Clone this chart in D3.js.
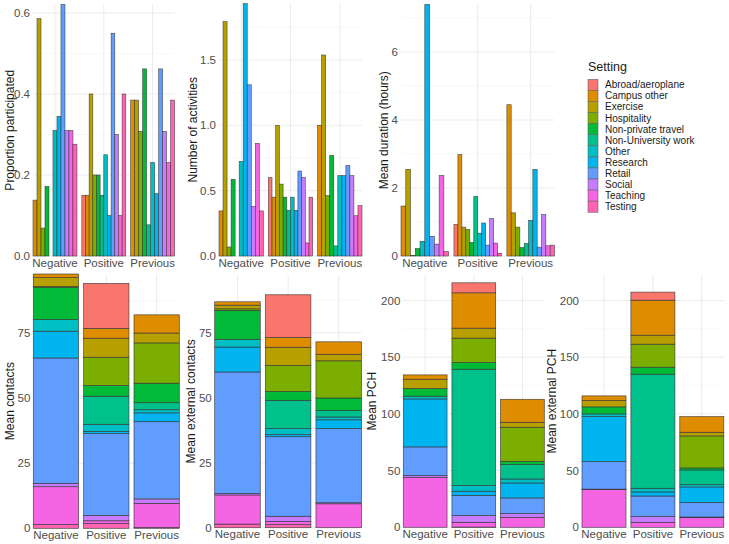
<!DOCTYPE html>
<html><head><meta charset="utf-8">
<script src="https://cdn.jsdelivr.net/npm/d3@7"></script>
<style>body{margin:0;background:#fff} svg{display:block} text{font-family:"Liberation Sans",Arial,sans-serif}</style>
</head><body><svg id="c" width="729" height="544"></svg>
<script>
const settings = ["Abroad/aeroplane","Campus other","Exercise","Hospitality","Non-private travel","Non-University work","Other","Research","Retail","Social","Teaching","Testing"];
const colors = ["#F8766D","#DE8C00","#B79F00","#7CAE00","#00BA38","#00C08B","#00BFC4","#00B4F0","#619CFF","#C77CFF","#F564E3","#FF64B0"];
const groups = ["Negative","Positive","Previous"];

// Top row (dodged bars), values in settings order; null = category absent
const propNegative = [null,0.138,0.586,0.069,0.172,0,0.310,0.345,0.621,0.310,0.310,0.276];
const propPositive = [0.15,0.15,0.40,0.20,0.20,0.15,0.25,0.10,0.55,0.30,0.10,0.40];
const propPrevious = [null,0.385,0.385,0.308,0.462,0.077,0.231,0.154,0.462,0.308,0.231,0.385];

const actNegative = [null,0.345,1.793,0.069,0.586,0,0.724,1.931,1.310,0.379,0.862,0.345];
const actPositive = [0.60,0.45,1.00,0.55,0.45,0.35,0.45,0.35,0.65,0.60,0.10,0.45];
const actPrevious = [null,1.00,1.538,0.462,0.769,0.077,0.615,0.615,0.692,0.615,0.308,0.385];

const durNegative = [null,1.47,2.55,0.02,0.22,null,0.43,7.40,0.58,0.35,2.37,0.13];
const durPositive = [0.93,2.98,0.85,0.78,0.40,1.75,0.67,0.97,0.32,1.10,0.38,0.08];
const durPrevious = [null,4.45,1.27,0.85,0.25,0.37,1.05,2.55,0.26,1.22,0.30,0.32];

// Bottom row (stacked bars), values in settings order
const contNegative = [0,1.4,3.4,0.3,12.4,0,4.5,10.3,48.2,1.3,14.5,1.5];
const contPositive = [17.3,3.8,7.3,10.9,4.1,10.8,2.7,0.9,31.5,2.0,1.1,1.8];
const contPrevious = [0,7.0,3.8,15.5,7.5,2.7,1.2,3.4,29.7,1.7,9.3,0.3];

const extNegative = [0,1.3,1.4,0.6,11.2,0,2.9,9.6,46.8,0.5,11.2,1.4];
const extPositive = [16.4,3.8,7.0,10.0,3.4,10.9,2.2,0.9,30.6,2.0,1.2,1.2];
const extPrevious = [0,4.8,2.5,14.3,4.8,2.5,1.1,3.3,28.6,0.4,9.2,0];

const pchNegative = [0,3.8,8.2,0,6.8,0,2.4,42.3,25.3,1.5,44.1,0];
const pchPositive = [8.8,31.2,8.8,21.5,5.9,102.6,5.0,3.6,17.9,5.9,4.2,0.2];
const pchPrevious = [0,20.3,4.4,30.0,2.9,12.7,3.5,13.2,13.8,3.3,8.8,0];

const epchNegative = [0,4.1,5.6,0,6.2,0,2.4,39.7,24.2,0.5,33.2,0];
const epchPositive = [7.1,30.9,7.9,20.3,6.2,100.6,3.2,3.6,18.2,5.0,4.4,0];
const epchPrevious = [0,13.8,3.2,28.2,1.8,13.0,2.0,13.8,12.7,0.6,8.5,0];

const svg = d3.select("#c");
const tickCol = "#4D4D4D", gridCol = "#EBEBEB";

function frame(p, y) {
  const g = svg.append("g");
  // minor grid
  g.selectAll(".mg").data(p.minor).join("line")
    .attr("x1", p.x0).attr("x2", p.x1).attr("y1", d => y(d)).attr("y2", d => y(d))
    .attr("stroke", "#F3F3F3").attr("stroke-width", 0.6);
  g.selectAll(".Mg").data(p.ticks).join("line")
    .attr("x1", p.x0).attr("x2", p.x1).attr("y1", d => y(d)).attr("y2", d => y(d))
    .attr("stroke", gridCol).attr("stroke-width", 1);
  return g;
}

function axes(p, x, y) {
  const ax = svg.append("g").attr("transform", `translate(${p.x0},0)`)
    .call(d3.axisLeft(y).tickValues(p.ticks).tickFormat(p.fmt).tickSize(0).tickPadding(3));
  ax.select(".domain").remove();
  ax.selectAll("text").attr("fill", tickCol).attr("font-size", 11.5).attr("font-family", '"Liberation Sans",Arial,sans-serif');
  const bx = svg.append("g").attr("transform", `translate(0,${p.y0})`)
    .call(d3.axisBottom(x).tickSize(0).tickPadding(2.5));
  bx.select(".domain").remove();
  bx.selectAll("text").attr("fill", tickCol).attr("font-size", 11.5).attr("font-family", '"Liberation Sans",Arial,sans-serif');
  svg.append("text").attr("transform", `translate(${p.tx},${(p.y0 + p.y1) / 2}) rotate(-90)`)
    .attr("text-anchor", "middle").attr("dominant-baseline", "central")
    .attr("font-size", 12).attr("fill", "#1a1a1a").text(p.title);
}

function dodged(p) {
  const x = d3.scaleBand().domain(groups).range([p.x0, p.x1]).paddingInner(0.1).paddingOuter(0);
  const vmax = d3.max(p.data.flat().filter(v => v != null));
  const y = d3.scaleLinear().domain([0, vmax]).range([p.y0, p.y1]);
  const g = frame(p, y);
  g.selectAll(".vg").data(groups).join("line")
    .attr("x1", d => x(d) + x.bandwidth() / 2).attr("x2", d => x(d) + x.bandwidth() / 2)
    .attr("y1", p.y0).attr("y2", p.y1).attr("stroke", gridCol).attr("stroke-width", 1);
  groups.forEach((gr, gi) => {
    const vals = p.data[gi];
    const present = settings.map((s, i) => ({s, i, v: vals[i]})).filter(d => d.v != null);
    const inner = d3.scaleBand().domain(present.map(d => d.s)).range([x(gr), x(gr) + x.bandwidth()]).padding(0);
    svg.append("g").selectAll("rect").data(present).join("rect")
      .attr("x", d => inner(d.s)).attr("width", inner.bandwidth())
      .attr("y", d => y(d.v)).attr("height", d => y(0) - y(d.v))
      .attr("fill", d => colors[d.i]).attr("stroke", "#333").attr("stroke-opacity", 0.85).attr("stroke-width", 0.6);
  });
  axes(p, x, y);
}

function stacked(p) {
  const x = d3.scaleBand().domain(groups).range([p.x0, p.x1]).paddingInner(0.1).paddingOuter(0);
  const y = d3.scaleLinear().domain([0, p.ymax]).range([p.y0, p.y1]);
  const g = frame(p, y);
  g.selectAll(".vg").data(groups).join("line")
    .attr("x1", d => x(d) + x.bandwidth() / 2).attr("x2", d => x(d) + x.bandwidth() / 2)
    .attr("y1", p.y0).attr("y2", p.y1).attr("stroke", gridCol).attr("stroke-width", 1);
  const rows = groups.map((gr, gi) => {
    const r = {group: gr};
    settings.forEach((s, i) => r[s] = p.data[gi][i]);
    return r;
  });
  const keys = settings.slice().reverse();
  const series = d3.stack().keys(keys)(rows);
  series.forEach(ser => {
    const ci = settings.indexOf(ser.key);
    svg.append("g").selectAll("rect").data(ser.filter(d => d[1] - d[0] > 0)).join("rect")
      .attr("x", d => x(d.data.group)).attr("width", x.bandwidth())
      .attr("y", d => y(d[1])).attr("height", d => y(d[0]) - y(d[1]))
      .attr("fill", colors[ci]).attr("stroke", "#333").attr("stroke-opacity", 0.85).attr("stroke-width", 0.7);
  });
  axes(p, x, y);
}

const topPanels = [
  {title: "Proportion participated", data: [propNegative, propPositive, propPrevious], x0: 33, x1: 174.6, y0: 256, y1: 4.5, tx: 10,
   ticks: [0, 0.2, 0.4, 0.6], minor: [0.1, 0.3, 0.5], fmt: d3.format(".1f")},
  {title: "Number of activities", data: [actNegative, actPositive, actPrevious], x0: 219, x1: 362, y0: 256, y1: 3.6, tx: 193,
   ticks: [0, 0.5, 1, 1.5], minor: [0.25, 0.75, 1.25, 1.75], fmt: d3.format(".1f")},
  {title: "Mean duration (hours)", data: [durNegative, durPositive, durPrevious], x0: 401, x1: 554.5, y0: 256, y1: 4.4, tx: 384,
   ticks: [0, 2, 4, 6], minor: [1, 3, 5, 7], fmt: d3.format("d")}
];
topPanels.forEach(dodged);

const bottomPanels = [
  {title: "Mean contacts", data: [contNegative, contPositive, contPrevious], ymax: 97.8, x0: 33.3, x1: 179.3, y0: 528.3, y1: 274, tx: 9.5,
   ticks: [0, 25, 50, 75], minor: [12.5, 37.5, 62.5, 87.5], fmt: d3.format("d")},
  {title: "Mean external contacts", data: [extNegative, extPositive, extPrevious], ymax: 97.2, x0: 214.7, x1: 361.5, y0: 527.7, y1: 275, tx: 191,
   ticks: [0, 25, 50, 75], minor: [12.5, 37.5, 62.5, 87.5], fmt: d3.format("d")},
  {title: "Mean PCH", data: [pchNegative, pchPositive, pchPrevious], ymax: 222.5, x0: 403.3, x1: 544.3, y0: 527.3, y1: 275, tx: 372,
   ticks: [0, 50, 100, 150, 200], minor: [25, 75, 125, 175], fmt: d3.format("d")},
  {title: "Mean external PCH", data: [epchNegative, epchPositive, epchPrevious], ymax: 222.5, x0: 582, x1: 723.8, y0: 527.3, y1: 275, tx: 552,
   ticks: [0, 50, 100, 150, 200], minor: [25, 75, 125, 175], fmt: d3.format("d")}
];
bottomPanels.forEach(stacked);

// Legend
const leg = svg.append("g").attr("transform", "translate(588,0)");
leg.append("text").attr("x", 0).attr("y", 71).attr("font-size", 12.5).attr("fill", "#1a1a1a").text("Setting");
const rowH = 11.08;
const li = leg.selectAll(".li").data(settings).join("g").attr("transform", (d, i) => `translate(0,${79.3 + i * rowH})`);
li.append("rect").attr("x", 0).attr("y", 0).attr("width", 10).attr("height", rowH)
  .attr("fill", (d, i) => colors[i]).attr("stroke", "#666").attr("stroke-width", 0.6);
li.append("text").attr("x", 17).attr("y", rowH / 2).attr("dominant-baseline", "central")
  .attr("font-size", 10).attr("fill", "#1a1a1a").text(d => d);
</script></body></html>
